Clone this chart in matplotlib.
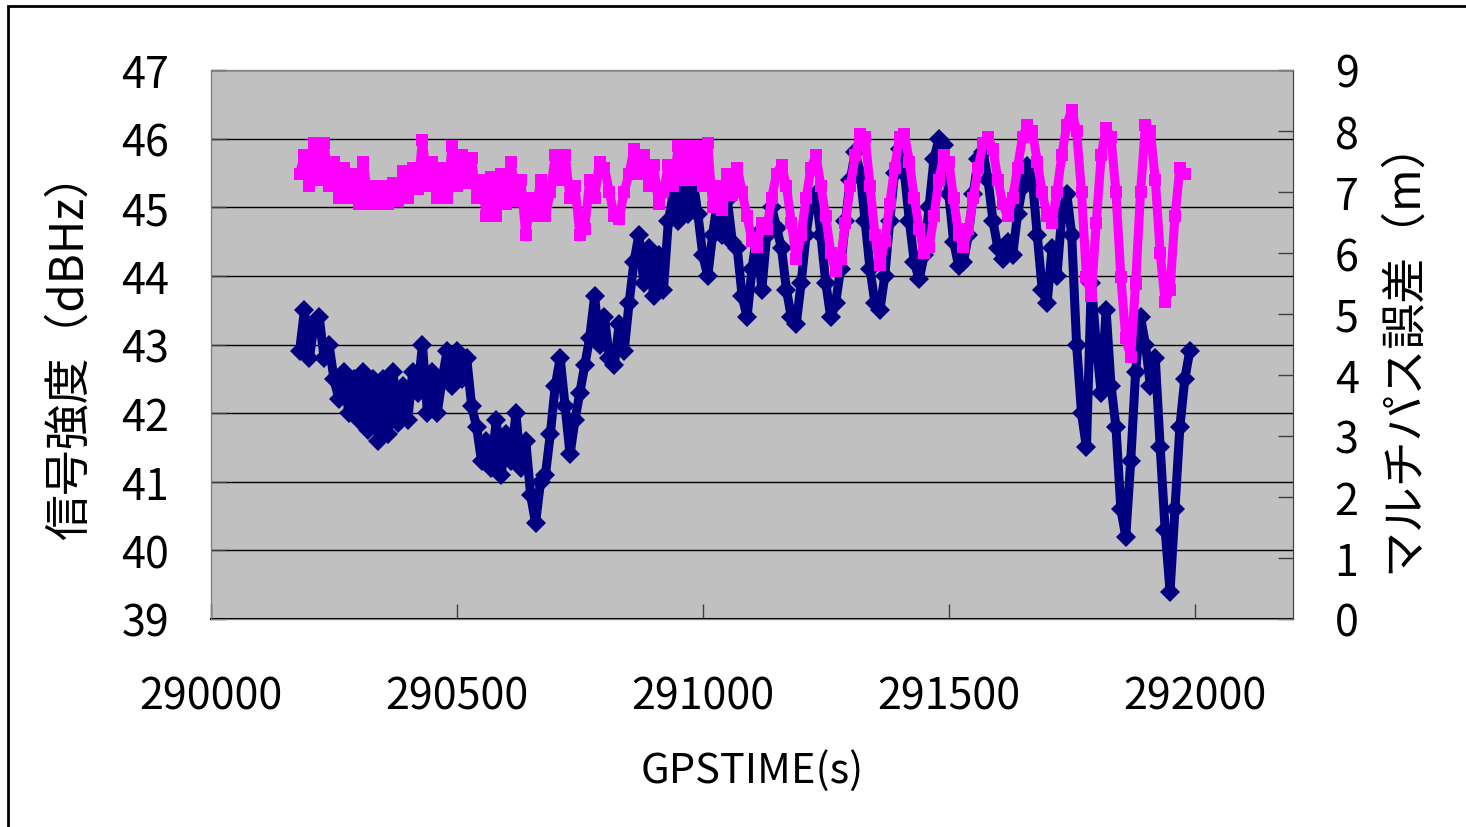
import numpy as np
import matplotlib
matplotlib.use("Agg")
import matplotlib.pyplot as plt
from matplotlib.patches import Rectangle

plt.rcParams['font.family'] = ['Noto Sans CJK JP', 'DejaVu Sans']

# sampling grid (GPS seconds), one reading every 10 s
T0_SNR, T0_MP, STEP = 290180, 290180, 10

# signal strength (dBHz), left axis
snr = [
    42.9, 43.5, 42.8, 43.3, 43.4, 42.8, 43.0, 42.5, 42.2, 42.6,
    42.0, 42.5, 41.9, 42.6, 41.75, 42.5, 41.6, 42.5, 41.7, 42.6,
    41.85, 42.4, 41.9, 42.6, 42.3, 43.0, 42.0, 42.6, 42.0, 42.5,
    42.9, 42.4, 42.9, 42.5, 42.8, 42.1, 41.8, 41.3, 41.6, 41.2,
    41.9, 41.1, 41.7, 41.3, 42.0, 41.2, 41.6, 40.8, 40.4, 41.0,
    41.1, 41.7, 42.4, 42.8, 42.1, 41.4, 41.9, 42.3, 42.7, 43.1,
    43.7, 43.0, 43.4, 42.8, 42.7, 43.3, 42.9, 43.6, 44.2, 44.6,
    43.9, 44.4, 43.7, 44.3, 43.8, 44.8, 45.2, 44.8, 45.4, 44.9,
    45.4, 44.9, 44.3, 44.0, 44.6, 45.1, 44.6, 45.1, 44.5, 44.4,
    43.7, 43.4, 44.1, 44.6, 43.8, 44.6, 45.0, 44.7, 44.4, 43.8,
    43.4, 43.3, 43.9, 44.6, 45.1, 45.2, 44.6, 43.9, 43.4, 43.6,
    44.1, 44.8, 45.4, 45.8, 45.5, 44.8, 44.1, 43.6, 43.5, 44.0,
    44.8, 45.5, 45.85, 45.5, 44.8, 44.2, 43.95, 44.3, 45.0, 45.7,
    46.0, 45.9, 45.2, 44.5, 44.15, 44.2, 44.6, 45.2, 45.7, 45.8,
    45.4, 44.8, 44.4, 44.25, 44.5, 44.3, 44.9, 45.3, 45.6, 45.4,
    44.6, 43.8, 43.6, 44.4, 44.0, 44.9, 45.2, 44.6, 43.0, 42.0,
    41.5, 43.9, 43.0, 42.3, 43.5, 42.4, 41.8, 40.6, 40.2, 41.3,
    42.6, 43.4, 43.0, 42.4, 42.8, 41.5, 40.3, 39.4, 40.6, 41.8,
    42.5, 42.9,
]

# multipath error (m), right axis
mp = [
    7.3, 7.6, 7.1, 7.8, 7.2, 7.8, 7.1, 7.5, 6.9, 7.4,
    6.9, 7.3, 6.8, 7.5, 6.8, 7.1, 6.8, 7.1, 6.8, 7.15,
    6.85, 7.35, 6.9, 7.4, 7.05, 7.85, 7.1, 7.5, 6.9, 7.4,
    6.9, 7.75, 7.1, 7.6, 7.15, 7.55, 6.9, 7.2, 6.6, 7.25,
    6.6, 7.3, 6.8, 7.5, 6.85, 7.2, 6.3, 6.9, 6.6, 7.2,
    6.6, 7.0, 7.6, 7.2, 7.6, 6.9, 7.1, 6.3, 6.4, 7.2,
    6.9, 7.5, 7.4, 7.0, 6.6, 6.55, 7.0, 7.3, 7.7, 7.3,
    7.6, 7.1, 7.45, 6.8, 7.0, 7.45, 7.1, 7.75, 7.2, 7.75,
    7.2, 7.75, 7.1, 7.8, 6.75, 7.1, 6.7, 7.3, 6.95, 7.4,
    7.0, 6.6, 6.2, 6.1, 6.5, 6.4, 6.9, 7.3, 7.45, 7.1,
    6.5, 5.9, 6.3, 6.9, 7.4, 7.6, 7.1, 6.6, 6.0, 5.7,
    5.9, 6.5, 7.1, 7.6, 7.95, 7.9, 7.1, 6.3, 5.8, 6.2,
    6.8, 7.4, 7.9, 7.95, 7.5, 6.9, 6.4, 6.0, 6.1, 6.6,
    7.2, 7.6, 7.5, 6.9, 6.3, 6.1, 6.4, 6.9, 7.4, 7.8,
    7.9, 7.7, 7.2, 6.8, 6.6, 6.9, 7.4, 7.9, 8.1, 8.0,
    7.5, 7.0, 6.6, 6.5, 7.0, 7.6, 8.1, 8.35, 8.0, 7.0,
    5.6, 5.3, 6.5, 7.6, 8.05, 7.9, 7.0, 5.6, 4.6, 4.3,
    5.5, 7.0, 8.1, 8.0, 7.2, 6.0, 5.2, 5.4, 6.6, 7.4,
    7.3,
]

t_snr = T0_SNR + STEP * np.arange(len(snr))
t_mp = T0_MP + STEP * np.arange(len(mp))

fig = plt.figure(figsize=(14.66, 8.28), dpi=100)
ax = fig.add_axes([211/1466, 208/828, 1082/1466, 549/828])
ax.set_facecolor("#c0c0c0")
ax.set_axisbelow(True)
ax.yaxis.grid(True, color="black", lw=1.0)

# dense 1 Hz clouds in the original -> thick stroke plus big markers
ax.plot(t_snr, snr, color="#000080", lw=6.5, marker="D", ms=10,
        markeredgewidth=0, solid_joinstyle="round", zorder=3)
ax.set_xlim(290000, 292200)
ax.set_ylim(39, 47)
ax.set_xticks([290000, 290500, 291000, 291500, 292000])
ax.set_yticks(range(39, 48))

ax2 = ax.twinx()
ax2.plot(t_mp, mp, color="#ff00ff", lw=6.5, marker="s", ms=8,
         markeredgewidth=0, solid_joinstyle="round", zorder=3)
ax2.set_ylim(0, 9)
ax2.set_yticks(range(0, 10))

for a in (ax, ax2):
    a.tick_params(direction="in", length=11, width=1, labelsize=31,
                  color="#404040")
    for s in a.spines.values():
        s.set_color("#808080")
ax.spines["left"].set_color("black")
ax.spines["bottom"].set_color("black")
ax.spines["bottom"].set_linewidth(1.5)
ax2.spines["right"].set_color("#404040")
ax.tick_params(axis="y", pad=30)
ax2.tick_params(axis="y", pad=30)
ax.tick_params(axis="x", pad=40)

ax.set_xlabel("GPSTIME(s)", fontsize=30, labelpad=22)
ax.set_ylabel("信号強度（dBHz）", fontsize=33, labelpad=20)
ax2.set_ylabel("マルチパス誤差（m）", fontsize=33, labelpad=14)

fig.patches.append(Rectangle((8/1466, -0.1), 1.2, 1 - 7/828 + 0.1,
                             transform=fig.transFigure, fill=False,
                             edgecolor="black", lw=2))

fig.savefig("out.png", dpi=100)
